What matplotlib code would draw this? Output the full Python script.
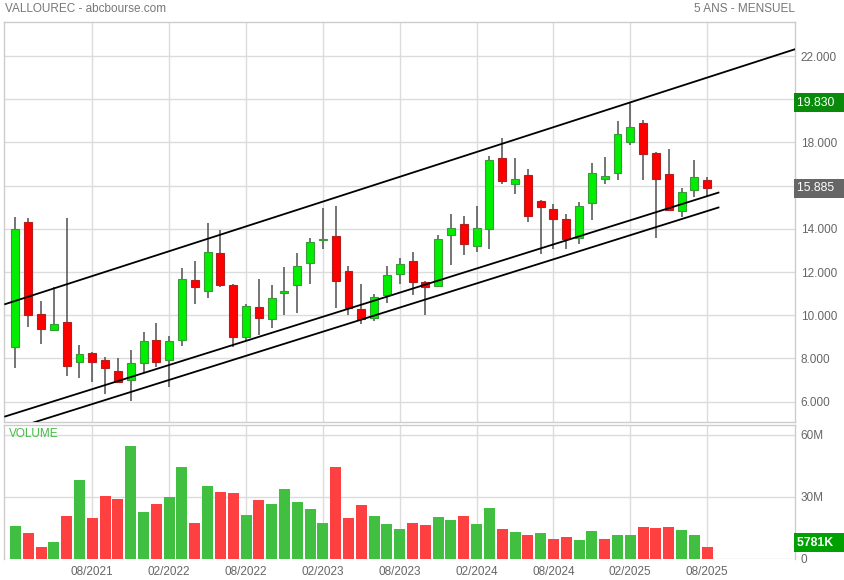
import matplotlib
matplotlib.use("Agg")
import matplotlib.pyplot as plt
import numpy as np
import pandas as pd
from matplotlib.transforms import blended_transform_factory

plt.rcParams['font.family'] = ['Liberation Sans', 'DejaVu Sans']

# ---------------- data ----------------
months = [p.strftime('%m/%Y') for p in pd.period_range('2021-02', '2025-08', freq='M')]

opens = [8.51, 14.31, 10.06, 9.33, 9.69, 7.82, 8.23, 7.93, 7.42, 6.98, 7.77, 8.85, 7.91, 8.84,
         11.63, 11.10, 12.86, 11.38, 9.01, 10.38, 9.81, 11.04, 11.38, 12.40, 13.47, 13.65, 12.03,
         10.27, 9.85, 10.95, 11.89, 12.49, 11.52, 11.37, 13.73, 14.21, 13.22, 14.01, 17.26, 16.06,
         16.49, 15.27, 14.90, 14.44, 13.59, 15.18, 16.29, 16.60, 18.00, 18.88, 17.49, 16.52, 14.84,
         15.78, 16.24]
highs = [14.53, 14.48, 10.66, 11.29, 14.48, 8.62, 8.31, 8.05, 8.01, 8.39, 9.22, 9.65, 9.04, 12.20,
         12.51, 14.28, 13.94, 11.43, 10.52, 11.69, 11.40, 12.25, 12.86, 13.57, 14.96, 15.06, 12.28,
         11.44, 10.98, 12.28, 12.63, 12.91, 11.58, 13.71, 14.69, 14.59, 15.06, 17.37, 18.20, 17.28,
         16.75, 15.33, 15.15, 14.69, 15.24, 17.06, 17.32, 18.99, 19.83, 19.04, 17.57, 17.69, 15.87,
         17.17, 16.41]
lows = [7.57, 9.47, 8.68, 9.28, 7.20, 7.08, 6.89, 6.34, 6.85, 6.04, 7.34, 7.62, 6.66, 8.59,
        10.53, 10.81, 11.29, 8.51, 8.82, 9.10, 9.42, 10.02, 10.12, 11.43, 13.05, 10.32, 10.02,
        9.59, 9.75, 10.58, 11.43, 10.95, 10.02, 11.37, 12.32, 12.79, 12.94, 13.08, 16.07, 15.61,
        14.33, 12.83, 13.05, 13.08, 13.31, 14.41, 16.09, 16.26, 17.88, 16.26, 13.59, 14.82, 14.56,
        15.49, 15.52]
closes = [13.98, 10.00, 9.35, 9.59, 7.63, 8.20, 7.82, 7.54, 6.89, 7.77, 8.81, 7.82, 8.81, 11.68,
          11.29, 12.91, 11.38, 9.01, 10.43, 9.89, 10.78, 11.12, 12.28, 13.37, 13.53, 11.60, 10.32,
          9.81, 10.83, 11.85, 12.35, 11.55, 11.32, 13.51, 14.02, 13.31, 14.02, 17.17, 16.23, 16.29,
          14.61, 14.99, 14.47, 13.54, 15.04, 16.57, 16.44, 18.37, 18.70, 17.45, 16.29, 14.89, 15.69,
          16.38, 15.885]
volumes_m = [15.7, 12.2, 5.6, 8.0, 20.5, 37.9, 19.6, 30.3, 28.9, 54.7, 22.5, 26.6, 29.7, 44.6,
             17.2, 35.4, 32.1, 31.8, 21.3, 28.2, 26.6, 33.8, 27.4, 24.2, 17.5, 44.6, 19.9, 25.8,
             20.7, 17.0, 14.6, 17.5, 16.2, 20.0, 18.6, 20.9, 17.0, 24.5, 14.3, 13.0, 11.5, 12.2,
             9.5, 10.4, 9.1, 13.2, 9.5, 11.7, 11.4, 15.2, 14.8, 15.2, 13.8, 11.7, 5.781]

tick_labels = ['08/2021', '02/2022', '08/2022', '02/2023', '08/2023',
               '02/2024', '08/2024', '02/2025', '08/2025']
price_ticks = [6, 8, 10, 12, 14, 16, 18, 20, 22]
vol_ticks_m = [0, 30, 60]
vol_tick_labels = ['0', '30M', '60M']

# channel lines: (month index, price) start / end
channel_upper = [(-0.87, 10.50), (60.88, 22.32)]
channel_mid = [(-0.87, 5.30), (54.95, 15.69)]
channel_low = [(0.0, 4.77), (54.95, 15.00)]

high_label = 19.830
last_label = 15.885
vol_label = '5781K'

# ---------------- figure ----------------
W, H = 844, 580
fig = plt.figure(figsize=(W / 100, H / 100), dpi=100)
fig.patch.set_facecolor('white')

ax = fig.add_axes([4.3 / W, 1 - 421.7 / H, 791 / W, 400 / H])
axv = fig.add_axes([4.3 / W, 1 - 558.7 / H, 791 / W, 133.7 / H])

x = np.arange(len(months))
xlim = (-0.87, 60.88)
tick_pos = [months.index(t) for t in tick_labels]

grid_c = '#dcdcdc'
spine_c = '#cccccc'
txt_c = '#666666'
fs = 8.5

for a in (ax, axv):
    a.set_xlim(*xlim)
    a.set_axisbelow(True)
    a.grid(True, color=grid_c, lw=1)
    for s in a.spines.values():
        s.set_color(spine_c)
        s.set_linewidth(1)
    a.set_xticks(tick_pos)
    a.yaxis.tick_right()
    a.tick_params(axis='both', length=0, labelcolor=txt_c, labelsize=fs)

# candles
up_face, up_edge = '#00ee00', '#3a9a3a'
dn_face, dn_edge = '#ff0000', '#b02020'
o = np.array(opens); c = np.array(closes); h = np.array(highs); l = np.array(lows)
ax.vlines(x, l, h, color='#505050', lw=1.1, zorder=2)
up = c >= o
body_bottom = np.minimum(o, c)
body_h = np.maximum(np.abs(c - o), 0.04)
ax.bar(x[up], body_h[up], bottom=body_bottom[up], width=0.62,
       color=up_face, edgecolor=up_edge, lw=0.8, zorder=3)
ax.bar(x[~up], body_h[~up], bottom=body_bottom[~up], width=0.62,
       color=dn_face, edgecolor=dn_edge, lw=0.8, zorder=3)

for line in (channel_upper, channel_mid, channel_low):
    (x0, y0), (x1, y1) = line
    ax.plot([x0, x1], [y0, y1], color='black', lw=1.3, zorder=4, solid_capstyle='butt')

ax.set_ylim(5.07, 23.59)
ax.set_yticks(price_ticks)
ax.set_yticklabels([f'{v:.3f}' for v in price_ticks])
ax.tick_params(axis='y', pad=4)
ax.set_xticklabels([])

# value boxes on price axis
trans = blended_transform_factory(ax.transAxes, ax.transData)
ax.text(1.0025, high_label, f'{high_label:.3f}   ', transform=trans, va='center', ha='left',
        color='white', fontsize=fs + 0.3, clip_on=False, zorder=10,
        bbox=dict(boxstyle='square,pad=0.28', fc='#0a8a0a', ec='none'))
ax.text(1.0025, last_label, f'{last_label:.3f}   ', transform=trans, va='center', ha='left',
        color='white', fontsize=fs + 0.3, clip_on=False, zorder=10,
        bbox=dict(boxstyle='square,pad=0.28', fc='#666666', ec='none'))

# volume
vol = np.array(volumes_m)
prev_close = np.concatenate([[o[0]], c[:-1]])
vol_up = c >= prev_close
vcols = np.where(vol_up, '#40bf40', '#ff4040')
axv.bar(x, vol, width=0.86, color=vcols, zorder=2)
axv.set_ylim(0, 64.7)
axv.set_yticks(vol_ticks_m)
axv.set_yticklabels(vol_tick_labels)
axv.tick_params(axis='y', pad=4)
axv.set_xticklabels(tick_labels)
axv.tick_params(axis='x', pad=5)
axv.spines['bottom'].set_visible(False)

transv = blended_transform_factory(axv.transAxes, axv.transData)
axv.annotate(vol_label + '  ', xy=(1.0025, vol[-1]), xycoords=transv,
             xytext=(0, 4), textcoords='offset pixels', va='center', ha='left',
             color='white', fontsize=fs + 0.3, fontweight='bold', annotation_clip=False, zorder=10,
             bbox=dict(boxstyle='square,pad=0.28', fc='#00a000', ec='none'))

axv.text(0.006, 0.933, 'VOLUME', transform=axv.transAxes, color='#44bb44',
         fontsize=fs, va='center', ha='left')

fig.text(5 / W, 1 - 9 / H, 'VALLOUREC - abcbourse.com', color='#777777', fontsize=fs,
         va='center', ha='left')
fig.text(795 / W, 1 - 9 / H, '5 ANS - MENSUEL', color='#777777', fontsize=fs,
         va='center', ha='right')

fig.savefig('out.png', dpi=100, facecolor='white')
